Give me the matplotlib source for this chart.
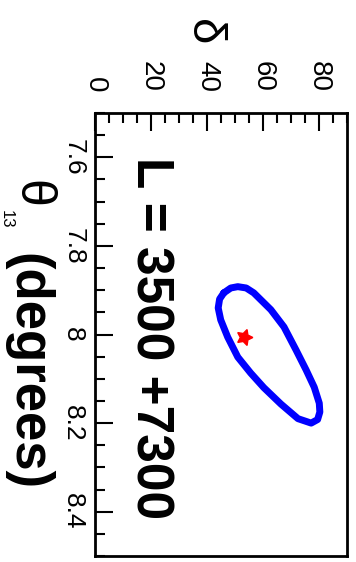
import matplotlib
matplotlib.use("Agg")
import matplotlib.pyplot as plt
from matplotlib.ticker import MultipleLocator

plt.rcParams['font.family'] = ['Liberation Sans', 'DejaVu Sans']

# контур разрешения (delta, theta13) для L = 3500 + 7300
contour_delta = [46.0, 48.5, 51.0, 54.0, 56.7, 62.8, 67.5, 71.8, 75.4, 78.3, 80.1, 80.3,
                 79.5, 77.2, 72.5, 66.4, 60.3, 55.6, 51.0, 47.4, 44.9, 44.0, 44.5, 46.0]
contour_theta = [7.906, 7.895, 7.892, 7.895, 7.906, 7.944, 7.983, 8.035, 8.080, 8.119, 8.155, 8.175,
                 8.192, 8.200, 8.190, 8.157, 8.120, 8.087, 8.051, 8.006, 7.967, 7.940, 7.920, 7.906]

# истинная точка
true_delta = [53.1]
true_theta = [8.006]

delta_ticks = [0, 20, 40, 60, 80]
theta_ticks = [7.6, 7.8, 8.0, 8.2, 8.4]
theta_labels = ['7.6', '7.8', '8', '8.2', '8.4']

W, H = 356, 562
fig = plt.figure(figsize=(W / 100, H / 100), dpi=100)
ax = fig.add_axes([95 / W, 1 - 556 / H, 252 / W, 443 / H])

ax.plot(contour_delta, contour_theta, color='#0000ff', lw=5,
        solid_joinstyle='round', solid_capstyle='round')
ax.plot(true_delta, true_theta, linestyle='none', marker=(5, 1, -90),
        color='red', ms=12)

ax.set_xlim(0, 90)
ax.set_ylim(8.5, 7.5)

ax.xaxis.tick_top()
ax.set_xticks(delta_ticks)
ax.xaxis.set_minor_locator(MultipleLocator(5))
ax.set_yticks(theta_ticks)
ax.set_yticklabels(theta_labels)
ax.yaxis.set_minor_locator(MultipleLocator(0.05))

ax.tick_params(axis='x', which='both', direction='in', top=True, bottom=False,
               width=1.5, labelsize=20, pad=15, labelrotation=270)
ax.tick_params(axis='y', which='both', direction='in', left=True, right=False,
               width=1.5, labelsize=19, pad=7, labelrotation=270)
ax.tick_params(which='major', length=13)
ax.tick_params(which='minor', length=7.5)
for lab in ax.get_yticklabels():
    lab.set_va('center')

for s in ax.spines.values():
    s.set_linewidth(2)

ax.text(19.5, 8.008, 'L = 3500 +7300', rotation=270, fontsize=37,
        fontweight='bold', ha='center', va='center')

# подписи осей
fig.text(203 / W, 1 - 32 / H, 'δ', rotation=270, fontsize=34,
         ha='center', va='center')
fig.text(31 / W, 1 - 194 / H, 'θ', rotation=270, fontsize=36,
         ha='center', va='center')
fig.text(6 / W, 1 - 219 / H, '13', rotation=270, fontsize=12,
         ha='center', va='center')
fig.text(27 / W, 1 - 372 / H, '(degrees)', rotation=270, fontsize=38,
         fontweight='bold', ha='center', va='center')

fig.savefig('out.png', dpi=100)
